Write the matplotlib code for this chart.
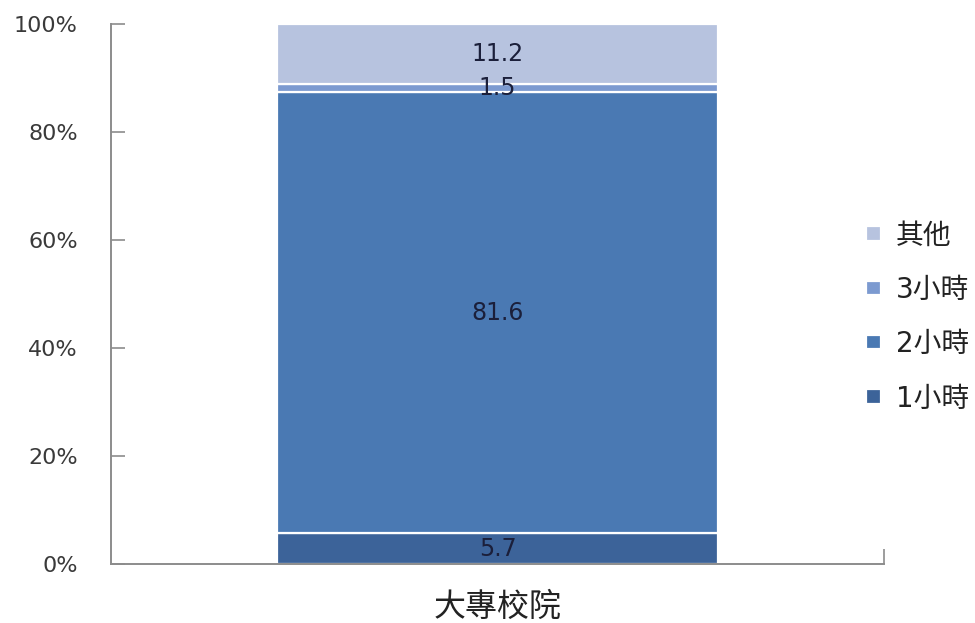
import matplotlib
matplotlib.use("Agg")
import matplotlib.pyplot as plt
from matplotlib.ticker import FuncFormatter, FixedLocator

plt.rcParams['font.family'] = ['DejaVu Sans', 'Noto Sans CJK TC']

# Data
category = ["大專校院"]
series_names = ["1小時", "2小時", "3小時", "其他"]
series_values = [5.7, 81.6, 1.5, 11.2]
series_colors = ["#3C6399", "#4A79B3", "#7C9AD0", "#B7C3DF"]
y_ticks = [0, 20, 40, 60, 80, 100]

fig = plt.figure(figsize=(9.75, 6.23), dpi=100)
ax = fig.add_axes([111 / 975, (623 - 564) / 623, (884 - 111) / 975, (564 - 23.5) / 623])

x = [0]
bottom = 0.0
handles = []
for name, val, col in zip(series_names, series_values, series_colors):
    bars = ax.bar(x, [val], bottom=[bottom], width=0.57, color=col,
                  edgecolor="white", linewidth=1.6, label=name, zorder=2)
    handles.append(bars)
    ax.text(x[0], bottom + val / 2, f"{val:.1f}", ha="center", va="center",
            fontsize=17, color="#1b1f3a", zorder=3)
    bottom += val

ax.set_xlim(-0.5, 0.5)
ax.set_ylim(0, 100)

# Y axis
ax.yaxis.set_major_locator(FixedLocator(y_ticks))
ax.yaxis.set_major_formatter(FuncFormatter(lambda v, p: f"{int(v)}%"))
ax.tick_params(axis="y", direction="in", length=10, width=1.2, color="#8c8c8c",
               labelsize=16, labelcolor="#3a3a3a", pad=24)

# X axis: category label at center, boundary tick at right end
ax.set_xticks([0])
ax.set_xticklabels(category, fontsize=23, color="#222222")
ax.tick_params(axis="x", length=0, pad=20)
ax.set_xticks([0.5], minor=True)
ax.tick_params(axis="x", which="minor", direction="in", length=11, width=1.2, color="#8c8c8c")

for side in ["top", "right"]:
    ax.spines[side].set_visible(False)
for side in ["left", "bottom"]:
    ax.spines[side].set_color("#8c8c8c")
    ax.spines[side].set_linewidth(1.4)

leg = fig.legend(handles[::-1], series_names[::-1], loc="center left",
                 bbox_to_anchor=(860 / 975, 1 - 317 / 623), frameon=False,
                 fontsize=20, handlelength=0.55, handleheight=0.42,
                 handletextpad=0.55, labelspacing=0.95, borderpad=0.2,
                 borderaxespad=0.0)
for t in leg.get_texts():
    t.set_color("#222222")

fig.savefig("out.png", dpi=100, facecolor="white")
